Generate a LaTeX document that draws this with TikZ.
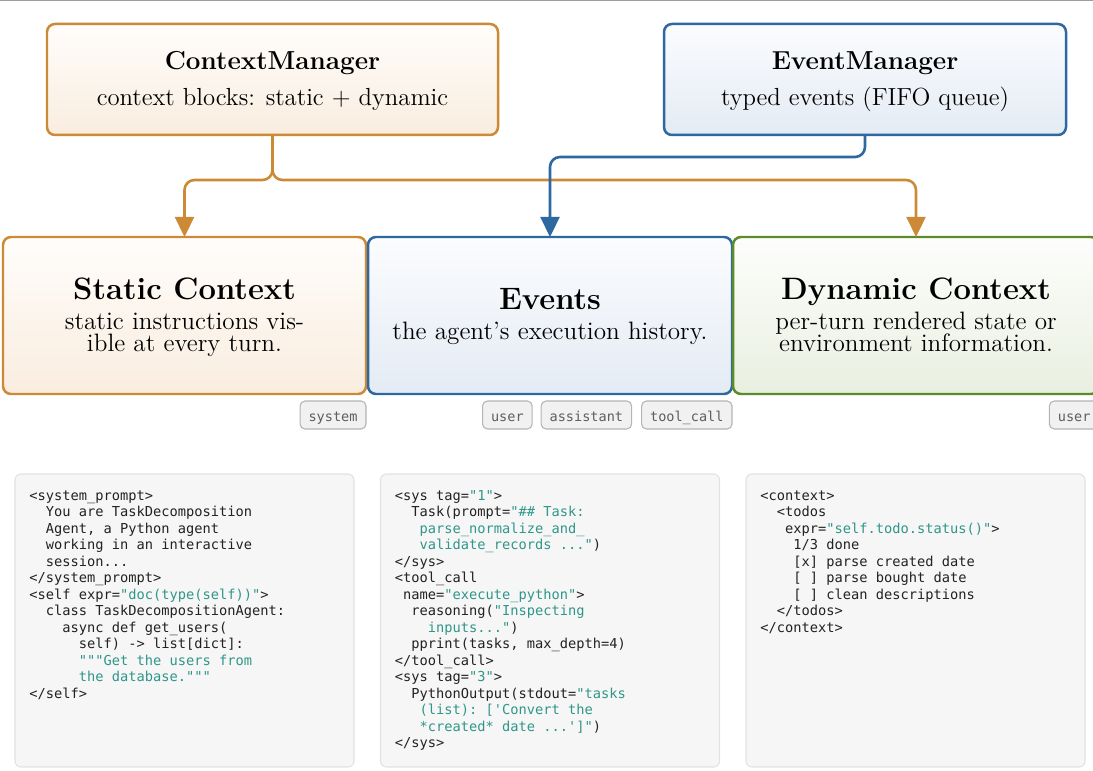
\documentclass[tikz,border=0pt]{standalone}
\usepackage{fontspec}
\setmonofont{DejaVu Sans Mono}
\usetikzlibrary{arrows.meta,calc}
\newdimen\pxu \pxu=0.465pt
\newcommand\ind[1]{\hspace*{#1\fontcharwd\font`x}}
\definecolor{orB}{HTML}{CD8A36}
\definecolor{orT}{HTML}{FFFDFB}
\definecolor{orBot}{HTML}{F9EDDF}
\definecolor{blB}{HTML}{2E68A1}
\definecolor{blT}{HTML}{FBFCFE}
\definecolor{blBot}{HTML}{E4EBF4}
\definecolor{grB}{HTML}{5C8B2A}
\definecolor{grT}{HTML}{FDFEFC}
\definecolor{grBot}{HTML}{E9EFE0}
\definecolor{str}{HTML}{2F968A}
\definecolor{codetext}{HTML}{222222}
\definecolor{codefill}{HTML}{F6F6F6}
\definecolor{codeline}{HTML}{E2E2E2}
\definecolor{tagfill}{HTML}{F1F1F1}
\definecolor{tagline}{HTML}{B4B4B4}
\definecolor{tagtext}{HTML}{5E5E5E}
\begin{document}
\begin{tikzpicture}[x=0.465pt,y=-0.465pt,
  mbox/.style={draw, rounded corners=3.7pt, line width=1.16pt, inner sep=0pt, outer sep=0pt},
  ctx/.style={mbox, draw=orB, top color=orT, bottom color=orBot},
  evt/.style={mbox, draw=blB, top color=blT, bottom color=blBot},
  dyn/.style={mbox, draw=grB, top color=grT, bottom color=grBot},
  topbox/.style={minimum height=111\pxu},
  lowbox/.style={minimum height=157\pxu},
  codebox/.style={draw=codeline, fill=codefill, line width=0.5pt, rounded corners=2.8pt,
    minimum width=339\pxu, minimum height=293\pxu, inner sep=0pt, outer sep=0pt},
  code/.style={anchor=north west, inner sep=0pt, align=left,
    font=\ttfamily\fontsize{6.37}{7.67}\selectfont\color{codetext}},
  toptitle/.style={anchor=base, inner sep=0pt, font=\fontsize{12.1}{14}\selectfont\bfseries},
  topsub/.style={anchor=base, inner sep=0pt, font=\fontsize{11.5}{13}\selectfont},
  lowtitle/.style={anchor=base, inner sep=0pt, font=\fontsize{14.4}{17}\selectfont\bfseries},
  lowsub/.style={anchor=base, inner sep=0pt, font=\fontsize{11.7}{13}\selectfont},
  tag/.style={draw=tagline, fill=tagfill, line width=0.5pt, rounded corners=2.3pt,
    anchor=north east, inner xsep=8.5\pxu, inner ysep=0pt, minimum height=28\pxu,
    text height=12\pxu, text depth=0pt, outer sep=0pt,
    font=\ttfamily\fontsize{6.3}{7.5}\selectfont\color{tagtext}},
  conn/.style={line width=1.2pt, rounded corners=4.65pt, -{Triangle[length=9.3pt,width=8.8pt]}}
]
\useasboundingbox (0,0) rectangle (1093,771);
\draw[gray!75, line width=0.7pt] (0,0.75) -- (1093,0.75);

% top boxes
\node[ctx, topbox, minimum width=451\pxu] (cm) at (272.5,79.5) {};
\node[toptitle] (cmt) at ($(cm.north)+(0,45.3)$) {ContextManager};
\node[topsub] (cms) at ($(cm.north)+(0,81.5)$) {context blocks: static + dynamic};

\node[evt, topbox, minimum width=402\pxu] (em) at (865,79.5) {};
\node[toptitle] (emt) at ($(em.north)+(0,45.3)$) {EventManager};
\node[topsub] (ems) at ($(em.north)+(0,81.5)$) {typed events (FIFO queue)};

% lower boxes
\node[ctx, lowbox, minimum width=363\pxu] (sc) at (184.5,315.5) {};
\node[lowtitle] (sct) at ($(sc.north)+(0,63)$) {Static Context};
\node[lowsub] (scs1) at ($(sc.north)+(0,92.3)$) {static instructions vis-};
\node[lowsub] (scs2) at ($(sc.north)+(0,115)$) {ible at every turn.};

\node[evt, lowbox, minimum width=364\pxu] (ev) at (550,315.5) {};
\node[lowtitle] (evtt) at ($(ev.north)+(0,73)$) {Events};
\node[lowsub] (evs) at ($(ev.north)+(0,103)$) {the agent's execution history.};

\node[dyn, lowbox, minimum width=366\pxu] (dc) at (916,315.5) {};
\node[lowtitle] (dct) at ($(dc.north)+(0,63)$) {Dynamic Context};
\node[lowsub] (dcs1) at ($(dc.north)+(0,92.3)$) {per-turn rendered state or};
\node[lowsub] (dcs2) at ($(dc.north)+(0,115)$) {environment information.};

% connectors
\draw[conn, draw=orB] (cm.south) -- ++(0,45) -| (sc.north);
\draw[conn, draw=orB] (cm.south) -- ++(0,45) -| (dc.north);
\draw[conn, draw=blB] (em.south) -- ++(0,22) -| (ev.north);

% tags
\node[tag] (tsys) at ($(sc.south east)+(0,7)$) {system};
\node[tag] (ttc) at ($(ev.south east)+(0,7)$) {tool\_call};
\node[tag] (tas) at ($(ttc.north west)+(-10,0)$) {assistant};
\node[tag] (tus) at ($(tas.north west)+(-9,0)$) {user};
\node[tag] (tdu) at ($(dc.south east)+(0,7)$) {user};

% code boxes
\node[codebox] (cb1) at (184.5,620.5) {};
\node[codebox] (cb2) at (550,620.5) {};
\node[codebox] (cb3) at (915.5,620.5) {};

\node[code] (c1) at ($(cb1.north west)+(14,14.5)$) {\strut<system\_prompt>\\
\ind{2}You are TaskDecomposition\\
\ind{2}Agent, a Python agent\\
\ind{2}working in an interactive\\
\ind{2}session...\\
</system\_prompt>\\
<self expr=\textcolor{str}{"doc(type(self))"}>\\
\ind{2}class TaskDecompositionAgent:\\
\ind{4}async def get\_users(\\
\ind{6}self) -> list[dict]:\\
\ind{6}\textcolor{str}{"""Get the users from}\\
\ind{6}\textcolor{str}{the database."""}\\
</self>};

\node[code] (c2) at ($(cb2.north west)+(14,14.5)$) {\strut<sys tag=\textcolor{str}{"1"}>\\
\ind{2}Task(prompt=\textcolor{str}{"\#\# Task:}\\
\ind{3}\textcolor{str}{parse\_normalize\_and\_}\\
\ind{3}\textcolor{str}{validate\_records ..."})\\
</sys>\\
<tool\_call\\
\ind{1}name=\textcolor{str}{"execute\_python"}>\\
\ind{2}reasoning(\textcolor{str}{"Inspecting}\\
\ind{4}\textcolor{str}{inputs..."})\\
\ind{2}pprint(tasks, max\_depth=4)\\
</tool\_call>\\
<sys tag=\textcolor{str}{"3"}>\\
\ind{2}PythonOutput(stdout=\textcolor{str}{"tasks}\\
\ind{3}\textcolor{str}{(list): ['Convert the}\\
\ind{3}\textcolor{str}{*created* date ...']"})\\
</sys>};

\node[code] (c3) at ($(cb3.north west)+(14,14.5)$) {\strut<context>\\
\ind{2}<todos\\
\ind{3}expr=\textcolor{str}{"self.todo.status()"}>\\
\ind{4}1/3 done\\
\ind{4}[x] parse created date\\
\ind{4}[ ] parse bought date\\
\ind{4}[ ] clean descriptions\\
\ind{2}</todos>\\
</context>};
\end{tikzpicture}
\end{document}
